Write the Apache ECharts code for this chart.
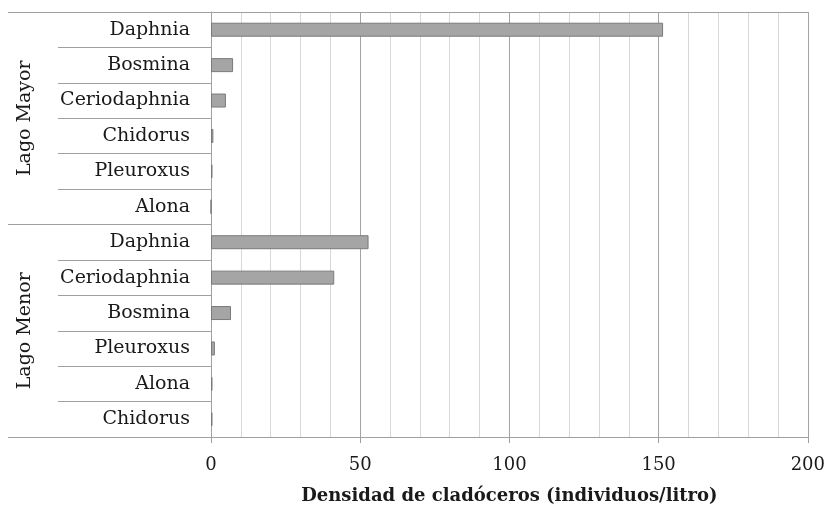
<!DOCTYPE html>
<html>
<head>
<meta charset="utf-8">
<script src="https://cdn.jsdelivr.net/npm/echarts@6/dist/echarts.min.js"></script>
<style>html,body{margin:0;padding:0;background:#fff}#c{width:828px;height:510px}</style>
</head>
<body>
<div id="c"></div>
<script>
const species = ['Daphnia','Bosmina','Ceriodaphnia','Chidorus','Pleuroxus','Alona',
                 'Daphnia','Ceriodaphnia','Bosmina','Pleuroxus','Alona','Chidorus'];
const groups = ['Lago Mayor','Lago Menor'];
const densidad = [151.5, 7.4, 5.0, 0.8, 0.5, 0.0,
                  52.8, 41.3, 6.7, 1.3, 0.5, 0.5];
const xTicks = [0, 50, 100, 150, 200];
const xTitle = 'Densidad de cladóceros (individuos/litro)';

const FONT = 'DejaVu Serif';
const TXT = '#1a1a1a';
const LINE = '#a0a0a0';

const chart = echarts.init(document.getElementById('c'));
chart.setOption({
  animation: false,
  backgroundColor: '#fff',
  grid: {left: 211, right: 18, top: 12, bottom: 73, containLabel: false},
  xAxis: [{
    type: 'value', position: 'bottom',
    min: xTicks[0], max: xTicks[xTicks.length-1], interval: 50,
    axisLine: {show: true, lineStyle: {color: LINE, width: 1}},
    axisTick: {show: true, length: 6, lineStyle: {color: LINE}},
    axisLabel: {margin: 19, fontSize: 18, fontFamily: FONT, color: TXT},
    splitLine: {show: true, lineStyle: {color: '#a4a4a4', width: 1}},
    minorTick: {show: false, splitNumber: 5},
    minorSplitLine: {show: true, lineStyle: {color: '#d8d8d8', width: 1}},
    name: xTitle, nameLocation: 'middle', nameGap: 50,
    nameTextStyle: {fontSize: 18, fontWeight: 'bold', fontFamily: FONT, color: TXT}
  }, {
    type: 'value', position: 'top',
    min: xTicks[0], max: xTicks[xTicks.length-1],
    axisLine: {show: true, lineStyle: {color: LINE, width: 1}},
    axisTick: {show: false}, axisLabel: {show: false}, splitLine: {show: false}
  }],
  yAxis: [{
    type: 'category', data: species, inverse: true, position: 'left',
    axisLine: {show: true, lineStyle: {color: LINE, width: 1}},
    axisTick: {show: true, length: 153, lineStyle: {color: LINE, width: 1}},
    axisLabel: {margin: 21, fontSize: 19, fontFamily: FONT, color: TXT},
    splitLine: {show: false}
  }, {
    type: 'category', data: groups, inverse: true, position: 'left',
    axisLine: {show: false},
    axisTick: {show: true, length: 203, lineStyle: {color: LINE, width: 1}},
    axisLabel: {rotate: 90, margin: 176, fontSize: 19, fontFamily: FONT, color: TXT},
    splitLine: {show: false}
  }],
  series: [{
    type: 'bar', xAxisIndex: 0, yAxisIndex: 0,
    data: densidad, barWidth: 14,
    itemStyle: {color: '#a5a5a5', borderColor: '#7a7a7a', borderWidth: 1}
  }]
});
</script>
</body>
</html>
